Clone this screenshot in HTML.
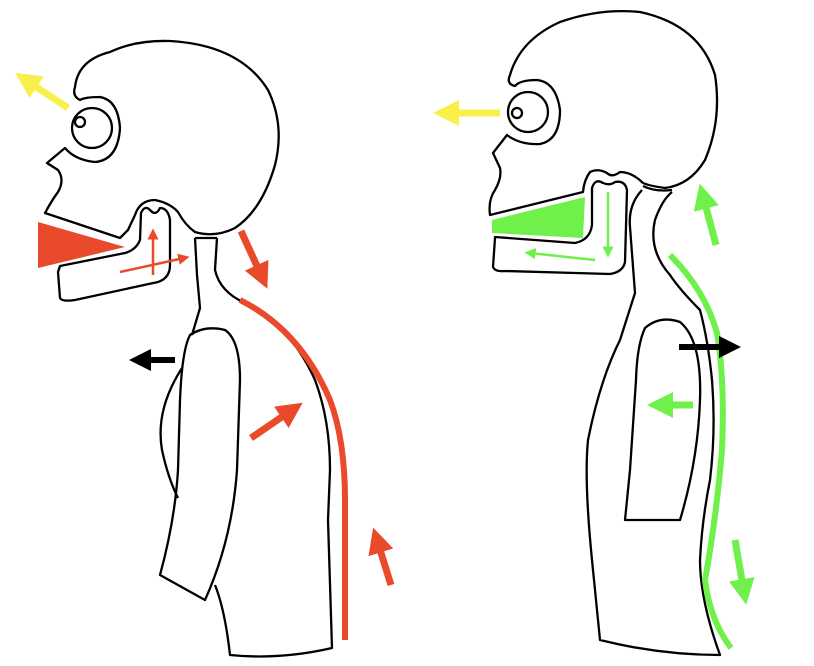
<!DOCTYPE html>
<html><head><meta charset="utf-8"><style>html,body{margin:0;padding:0;background:#fff}svg{display:block}</style></head>
<body>
<svg width="814" height="666" viewBox="0 0 814 666" xmlns="http://www.w3.org/2000/svg">
<defs>
<marker id="ar" viewBox="0 0 10 10" refX="5" refY="5" markerWidth="3.7" markerHeight="3.7" orient="auto"><path d="M0,0 L10,5 L0,10 Z" fill="context-stroke"/></marker>
<marker id="as" viewBox="0 0 10 10" refX="5" refY="5" markerWidth="4.5" markerHeight="4.5" orient="auto"><path d="M0,0 L10,5 L0,10 Z" fill="context-stroke"/></marker>
</defs>
<g fill="none" stroke="#000" stroke-width="2.3" stroke-linejoin="round">
<!-- LEFT skull -->
<path d="M75,87 Q78,60 110,52 Q135,40 170,41 Q240,45 268,90 Q285,125 275,165 Q262,210 235,228 Q215,238 195,232 Q185,225 178,212 Q170,203 155,200 Q140,200 135,215 L128,230 L120,238 L45,213 Q52,200 58,192 Q65,180 58,170 L47,163 L65,148 Q75,160 95,162 Q118,160 120,128 Q118,100 100,97 Q85,97 80,100 Q72,96 75,87 Z"/>
<circle cx="92" cy="128" r="20"/>
<circle cx="80" cy="122" r="5"/>
<path d="M58,272 L60,298 Q62,302 75,300 L158,282 Q170,278 170,265 L170,220 Q168,208 160,208 Q156,216 151,211 Q145,204 141,213 L140,240 Q136,250 125,253 L60,266 Z"/>
<!-- left neck -->
<path d="M195,238 L217,238"/>
<path d="M195,238 L197,275 L200,308 L192,335"/>
<path d="M217,238 L215,270 Q220,292 245,303 Q290,325 315,380 Q330,420 330,470 L328,520 Q330,580 332,648 Q280,660 230,655 Q225,610 215,585"/>
<!-- arm left -->
<path d="M190,335 Q205,325 225,330 Q240,340 240,380 L237,470 Q232,540 205,600 L160,575 Q175,520 178,470 L180,400 Q182,350 190,335 Z"/>
<path d="M182,368 Q155,410 162,450 Q168,478 178,498"/>
<!-- RIGHT skull -->
<path d="M510,75 Q520,40 560,22 Q600,8 640,12 Q700,25 715,75 Q722,120 705,160 Q690,185 665,188 Q650,186 643,183 Q632,172 620,172 Q612,178 607,173 Q598,168 590,172 Q584,180 583,192 L490,215 Q488,200 495,190 Q502,178 500,168 L493,153 L507,135 Q520,145 540,144 Q560,140 560,110 Q556,82 537,80 Q520,80 515,86 Q506,84 510,75 Z"/>
<path d="M643,186 Q655,192 672,190"/>
<circle cx="528" cy="112" r="20"/>
<circle cx="517" cy="113" r="5"/>
<path d="M495,238 L493,267 Q495,272 505,271 L610,274 Q623,272 625,262 L627,190 Q625,180 615,182 Q610,186 603,183 Q595,178 592,188 L592,225 Q590,240 575,243 L495,237 Z"/>
<!-- right neck -->
<path d="M642,190 Q628,205 630,227 L635,293 L620,340 Q600,380 588,440 Q584,480 592,560 L600,640 Q660,655 720,655 Q700,600 700,560 Q702,520 710,480 Q716,430 712,380 Q708,340 700,310 Q680,290 670,275 Q648,250 655,220 Q662,200 672,192"/>
<path d="M625,520 L680,520 Q698,460 700,400 Q702,340 680,322 Q660,315 645,328 Q637,345 636,380 L630,470 Z"/>
</g>
<!-- red -->
<polygon points="38,222 125,247 38,268" fill="#ea4a2c"/>
<g stroke="#ea4a2c" fill="none" stroke-linecap="butt">
<path d="M240,300 Q300,330 330,400 Q345,440 345,500 L345,640" stroke-width="6"/>
<path d="M153,275 L153,234" stroke-width="2.5" marker-end="url(#as)"/>
<path d="M120,272 L184,258" stroke-width="2.5" marker-end="url(#as)"/>
<path d="M241,231 L262,277" stroke-width="7" marker-end="url(#ar)"/>
<path d="M251,438 L292,410" stroke-width="7" marker-end="url(#ar)"/>
<path d="M391,585 L377,540" stroke-width="7" marker-end="url(#ar)"/>
</g>
<!-- green -->
<polygon points="492,220 585,197 583,238 492,233" fill="#6ff04a"/>
<g stroke="#6ff04a" fill="none">
<path d="M670,255 Q705,290 717,333 Q725,380 722,450 Q716,520 705,580 Q710,620 731,648" stroke-width="6"/>
<path d="M608,192 L608,252" stroke-width="2.5" marker-end="url(#as)"/>
<path d="M595,260 L530,253" stroke-width="2.5" marker-end="url(#as)"/>
<path d="M716,245 L703,196" stroke-width="7" marker-end="url(#ar)"/>
<path d="M693,405 L660,405" stroke-width="7" marker-end="url(#ar)"/>
<path d="M735,540 L744,592" stroke-width="7" marker-end="url(#ar)"/>
</g>
<!-- yellow -->
<g stroke="#f8f04a" fill="none">
<path d="M68,108 L26,80" stroke-width="7" marker-end="url(#ar)"/>
<path d="M500,113 L446,113" stroke-width="7" marker-end="url(#ar)"/>
</g>
<!-- black -->
<g stroke="#000" fill="none">
<path d="M175,360 L140,360" stroke-width="6" marker-end="url(#ar)"/>
<path d="M679,347 L730,347" stroke-width="6" marker-end="url(#ar)"/>
</g>
</svg>
</body></html>
